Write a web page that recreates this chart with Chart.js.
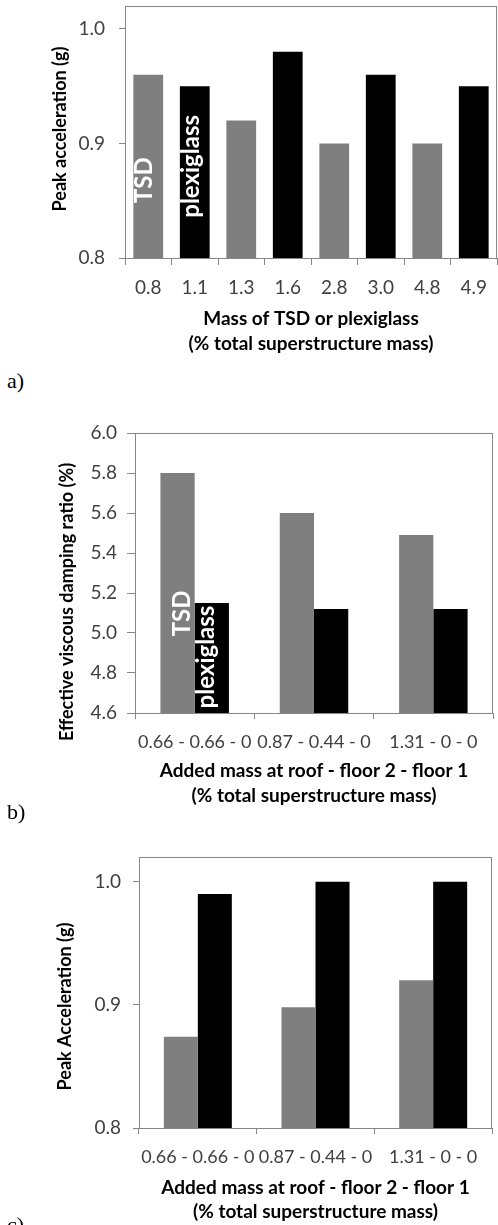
<!DOCTYPE html>
<html>
<head>
<meta charset="utf-8">
<script src="https://cdn.jsdelivr.net/npm/chart.js@4"></script>
<style>
  body { margin: 0; background: #fff; width: 498px; height: 1225px; position: relative; overflow: hidden; }
  canvas { position: absolute; left: 0; }
  .tag { position: absolute; left: 7px; font-family: "Liberation Serif", "Times New Roman", serif; font-size: 22px; line-height: 22px; color: #000; }
</style>
</head>
<body>
<canvas id="chartA" width="498" height="360" style="top:0"></canvas>
<div class="tag" style="top:370px">a)</div>
<canvas id="chartB" width="498" height="410" style="top:400px"></canvas>
<div class="tag" style="top:801px">b)</div>
<canvas id="chartC" width="498" height="405" style="top:820px"></canvas>
<div class="tag" style="top:1214px">c)</div>

<script>
// a) peak acceleration vs. mass of TSD / plexiglass
const massLabels = ['0.8', '1.1', '1.3', '1.6', '2.8', '3.0', '4.8', '4.9'];
const tsdPeakA   = [0.96, null, 0.92, null, 0.90, null, 0.90, null];
const plexiPeakA = [null, 0.95, null, 0.98, null, 0.96, null, 0.95];

// b) and c) share the added-mass distribution categories
const distLabels   = ['0.66 - 0.66 - 0', '0.87 - 0.44 - 0', '1.31 - 0 - 0'];
const tsdDamping   = [5.80, 5.60, 5.49];
const plexiDamping = [5.15, 5.12, 5.12];
const tsdPeakC     = [0.874, 0.898, 0.92];
const plexiPeakC   = [0.99, 1.00, 1.00];

const GRAY = '#7f7f7f';
const AXIS = '#868686';
const FONT = 'Lato, "Open Sans", sans-serif';

// box around the plot area (Excel style)
const frame = {
  id: 'frame',
  beforeDatasetsDraw(chart) {
    const a = chart.chartArea, ctx = chart.ctx;
    ctx.save();
    ctx.strokeStyle = AXIS;
    ctx.lineWidth = 1;
    ctx.strokeRect(Math.round(a.left) + 0.5, Math.round(a.top) + 0.5,
                   Math.round(a.right - a.left) - 1, Math.round(a.bottom - a.top));
    ctx.restore();
  }
};

// vertical y-axis title, placed relative to the plot area
const yTitle = {
  id: 'yTitle',
  afterDraw(chart, args, opts) {
    const a = chart.chartArea, ctx = chart.ctx;
    ctx.save();
    ctx.translate(a.left - opts.off, (a.top + a.bottom) / 2 + opts.dy);
    ctx.rotate(-Math.PI / 2);
    ctx.font = 'bold ' + opts.size + 'px ' + FONT;
    ctx.fillStyle = '#000';
    ctx.textAlign = 'center';
    ctx.textBaseline = 'middle';
    ctx.fillText(opts.text, 0, 0);
    ctx.restore();
  }
};

// white rotated "TSD" / "plexiglass" labels inside bars
const barTags = {
  id: 'barTags',
  afterDatasetsDraw(chart, args, opts) {
    const ctx = chart.ctx;
    (opts.tags || []).forEach(t => {
      const el = chart.getDatasetMeta(t.ds).data[t.idx];
      const y = chart.scales.y.getPixelForValue(t.at);
      ctx.save();
      ctx.translate(el.x + t.dx, y);
      ctx.rotate(-Math.PI / 2);
      ctx.font = 'bold 24px ' + FONT;
      ctx.fillStyle = '#fff';
      ctx.textAlign = 'center';
      ctx.textBaseline = 'alphabetic';
      ctx.fillText(t.text, 0, 0);
      ctx.restore();
    });
  }
};

function makeChart(id, labels, datasets, o) {
  return new Chart(document.getElementById(id), {
    type: 'bar',
    data: { labels: labels, datasets: datasets },
    plugins: [frame, yTitle, barTags],
    options: {
      responsive: false,
      animation: false,
      layout: { padding: { top: o.top, right: o.right, bottom: 0, left: 0 } },
      datasets: { bar: { categoryPercentage: o.cat, barPercentage: o.bar, grouped: o.grouped } },
      plugins: {
        legend: { display: false },
        tooltip: { enabled: false },
        yTitle: o.yTitle,
        barTags: { tags: o.tags }
      },
      scales: {
        x: {
          grid: { offset: true, drawOnChartArea: false, tickLength: o.xTick, color: AXIS },
          border: { color: AXIS },
          ticks: { font: { family: FONT, size: o.xFont }, color: '#404040', padding: o.xPad, maxRotation: 0, autoSkip: false },
          title: {
            display: true,
            text: o.xTitle,
            color: '#000',
            font: { family: FONT, size: 19, weight: 'bold', lineHeight: o.xLine + 'px' },
            padding: { top: 0, bottom: o.xTitlePad }
          },
          afterFit: s => { s.height = o.xh; s.paddingLeft = 0; s.paddingRight = 0; }
        },
        y: {
          min: o.min, max: o.max,
          grid: { drawOnChartArea: false, tickLength: o.yTick, color: AXIS },
          border: { color: AXIS },
          ticks: {
            stepSize: o.step,
            font: { family: FONT, size: 19 }, color: '#404040', padding: o.yPad,
            callback: v => Number(v).toFixed(1)
          },
          afterBuildTicks: s => {
            s.ticks = s.ticks.filter(t => Math.abs(t.value / o.step - Math.round(t.value / o.step)) < 1e-6);
          },
          afterFit: s => { s.width = o.yw; s.paddingTop = 0; s.paddingBottom = 0; }
        }
      }
    }
  });
}

makeChart('chartA', massLabels, [
  { data: tsdPeakA, backgroundColor: GRAY },
  { data: plexiPeakA, backgroundColor: '#000' }
], {
  top: 6, right: 1, yw: 125, xh: 102,
  cat: 1, bar: 0.64, grouped: false,
  min: 0.8, max: 1.02, step: 0.1,
  xTick: 7, xPad: 11, xFont: 19, yTick: 6, yPad: 14,
  xTitle: ['Mass of TSD or plexiglass', '(% total superstructure mass)'], xLine: 25, xTitlePad: 4,
  yTitle: { text: 'Peak acceleration (g)', size: 18, off: 65, dy: -3 },
  tags: [
    { text: 'TSD', ds: 0, idx: 0, dx: 4, at: 0.868 },
    { text: 'plexiglass', ds: 1, idx: 1, dx: 4, at: 0.88 }
  ]
});

makeChart('chartB', distLabels, [
  { data: tsdDamping, backgroundColor: GRAY },
  { data: plexiDamping, backgroundColor: '#000' }
], {
  top: 33, right: 5, yw: 135, xh: 97,
  cat: 0.574, bar: 1, grouped: true,
  min: 4.6, max: 6.0, step: 0.2,
  xTick: 6, xPad: 12, xFont: 18, yTick: 8, yPad: 10,
  xTitle: ['Added mass at roof - floor 2 - floor 1', '(% total superstructure mass)'], xLine: 25, xTitlePad: 2,
  yTitle: { text: 'Effective viscous damping ratio (%)', size: 18, off: 68, dy: 29 },
  tags: [
    { text: 'TSD', ds: 0, idx: 0, dx: 12, at: 5.098 },
    { text: 'plexiglass', ds: 1, idx: 0, dx: 2, at: 4.88 }
  ]
});

makeChart('chartC', distLabels, [
  { data: tsdPeakC, backgroundColor: GRAY },
  { data: plexiPeakC, backgroundColor: '#000' }
], {
  top: 37, right: 6, yw: 139, xh: 97,
  cat: 0.578, bar: 1, grouped: true,
  min: 0.8, max: 1.02, step: 0.1,
  xTick: 6, xPad: 12, xFont: 18, yTick: 6, yPad: 12,
  xTitle: ['Added mass at roof - floor 2 - floor 1', '(% total superstructure mass)'], xLine: 24, xTitlePad: 1,
  yTitle: { text: 'Peak Acceleration (g)', size: 18, off: 74, dy: 14 },
  tags: []
});
</script>
</body>
</html>
